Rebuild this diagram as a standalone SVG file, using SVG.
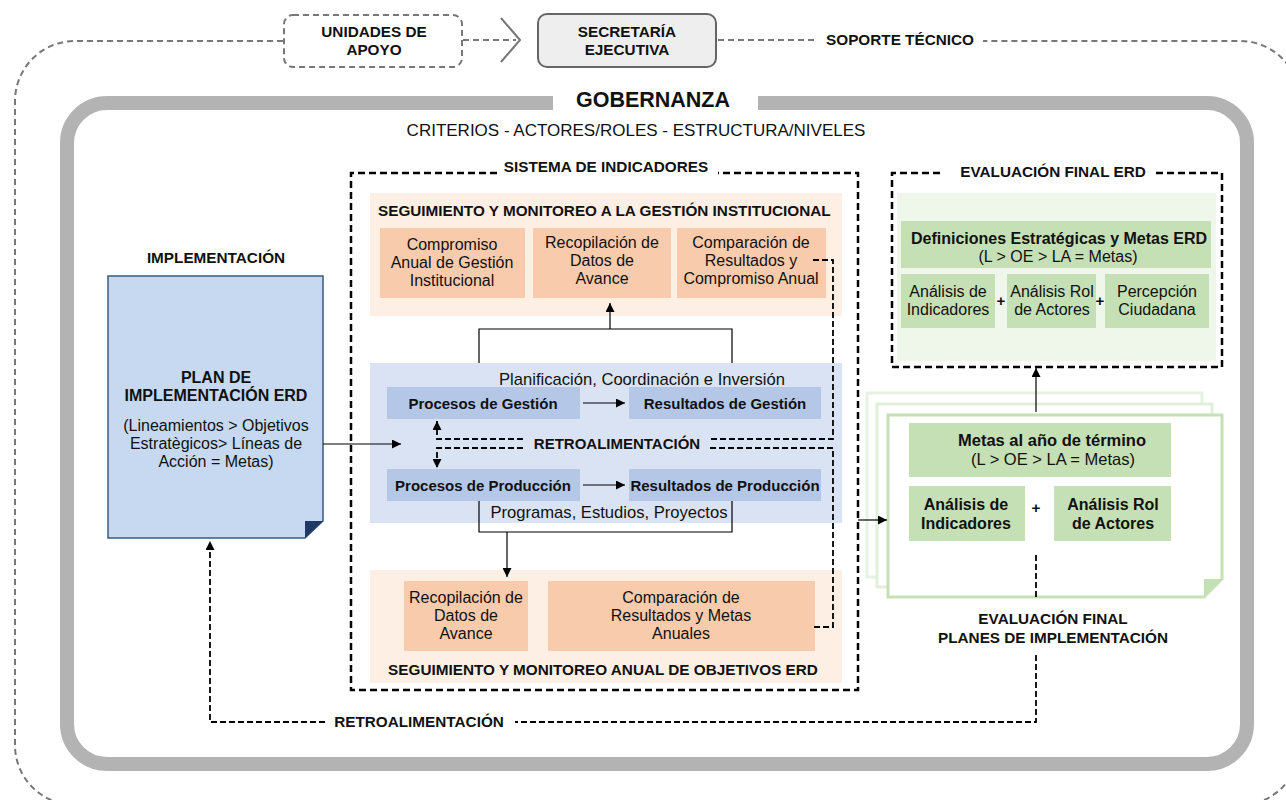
<svg xmlns="http://www.w3.org/2000/svg" width="1286" height="800" viewBox="0 0 1286 800">
<defs>
<marker id="ah" viewBox="0 0 10 10" refX="10" refY="5" markerWidth="10" markerHeight="9" markerUnits="userSpaceOnUse" orient="auto"><path d="M0,0 L10,5 L0,10 Z" fill="#000"/></marker>
<style>
text{font-family:"Liberation Sans",Arial,sans-serif;fill:#111;}
.b{font-weight:bold;}
.c{text-anchor:middle;}
.h{font-size:15.3px;font-weight:bold;}
.r{font-size:16px;}
.r1{font-size:16.6px;}
.rb{font-size:15px;font-weight:bold;}
.rb16{font-size:16px;font-weight:bold;}
.gd{fill:none;stroke:#777;stroke-width:2;stroke-dasharray:6,4;}
.kd{fill:none;stroke:#000;stroke-width:2.5;stroke-dasharray:7,4;}
.kd2{fill:none;stroke:#000;stroke-width:1.8;stroke-dasharray:6,3;}
.ln{fill:none;stroke:#000;stroke-width:1.2;}
.peachP{fill:#fdefe3;}
.peach{fill:#f8cbad;}
.blueP{fill:#dae3f3;}
.blue{fill:#b4c7e7;}
.green{fill:#c5e0b4;}
</style>
</defs>
<rect width="1286" height="800" fill="#fff"/>

<g id="frames">
<path class="gd" d="M283,41 H75 A60,60 0 0 0 15,101 V745 A60,60 0 0 0 75,805 H1240 A60,60 0 0 0 1300,745 V101 A60,60 0 0 0 1240,41 H983"/>
<path class="gd" d="M463,40 H516"/>
<path class="gd" d="M718,40 H815"/>
<path d="M501,18 L520,40 L501,62" fill="none" stroke="#777" stroke-width="2"/>
<text class="h c" x="900" y="45">SOPORTE TÉCNICO</text>
<path d="M553,103 H107 A40,40 0 0 0 67,143 V724 A40,40 0 0 0 107,764 H1207 A40,40 0 0 0 1247,724 V143 A40,40 0 0 0 1207,103 H758" fill="none" stroke="#b3b3b3" stroke-width="14"/>
<text class="b c" x="653" y="107" font-size="21.5">GOBERNANZA</text>
<text class="c" x="636" y="136" font-size="17">CRITERIOS - ACTORES/ROLES - ESTRUCTURA/NIVELES</text>
<path class="kd" d="M497,173 H351 V690 H858 V173 H718"/>
<text class="h c" x="606" y="172">SISTEMA DE INDICADORES</text>
<path class="kd" d="M940,173 H892 V367 H1222 V173 H1155"/>
<text class="h c" x="1053" y="177">EVALUACIÓN FINAL ERD</text>
</g>

<g id="unidades">
<rect x="284" y="15" width="178" height="52" rx="9" fill="#fff" class="gd"/>
<text class="h c" x="374" y="37">UNIDADES DE</text>
<text class="h c" x="374" y="55">APOYO</text>
</g>
<g id="secretaria">
<rect x="538" y="14" width="178" height="53" rx="9" fill="#eeeeee" stroke="#666" stroke-width="2"/>
<text class="h c" x="627" y="37">SECRETARÍA</text>
<text class="h c" x="627" y="55">EJECUTIVA</text>
</g>

<g id="implementacion">
<text class="h c" x="216" y="263">IMPLEMENTACIÓN</text>
<path d="M108,276 H323 V521 L305,538 H108 Z" fill="#c6d9f0" stroke="#3b5a80" stroke-width="1.5"/>
<path d="M305,538 V521 H323 Z" fill="#1f3864"/>
<text class="rb16 c" x="216" y="383">PLAN DE</text>
<text class="rb16 c" x="216" y="401">IMPLEMENTACIÓN ERD</text>
<text class="c r" x="216" y="431">(Lineamientos &gt; Objetivos</text>
<text class="c r" x="216" y="449">Estratègicos&gt; Líneas de</text>
<text class="c r" x="216" y="467">Acción = Metas)</text>
</g>

<g id="seguimiento-gestion">
<rect class="peachP" x="370" y="193" width="472" height="123"/>
<text class="h" x="378" y="216">SEGUIMIENTO Y MONITOREO A LA GESTIÓN INSTITUCIONAL</text>
<rect class="peach" x="380" y="228" width="145" height="70"/>
<text class="c r" x="452" y="250">Compromiso</text>
<text class="c r" x="452" y="268">Anual de Gestión</text>
<text class="c r" x="452" y="286">Institucional</text>
<rect class="peach" x="533" y="228" width="138" height="70"/>
<text class="c r" x="602" y="248">Recopilación de</text>
<text class="c r" x="602" y="266">Datos de</text>
<text class="c r" x="602" y="284">Avance</text>
<rect class="peach" x="677" y="228" width="149" height="70"/>
<text class="c r" x="751" y="248">Comparación de</text>
<text class="c r" x="751" y="266">Resultados y</text>
<text class="c r" x="751" y="284">Compromiso Anual</text>
</g>

<g id="procesos">
<rect class="blueP" x="370" y="363" width="472" height="160"/>
<text class="c r1" x="642" y="385">Planificación, Coordinación e Inversión</text>
<rect class="blue" x="387" y="387" width="193" height="32"/>
<text class="rb c" x="483" y="409">Procesos de Gestión</text>
<rect class="blue" x="629" y="387" width="192" height="32"/>
<text class="rb c" x="725" y="409">Resultados de Gestión</text>
<rect class="blue" x="387" y="469" width="193" height="32"/>
<text class="rb c" x="483" y="491">Procesos de Producción</text>
<rect class="blue" x="629" y="469" width="192" height="32"/>
<text class="rb c" x="725" y="491">Resultados de Producción</text>
<text class="c r1" x="609" y="518">Programas, Estudios, Proyectos</text>
<text class="rb c" x="617" y="449">RETROALIMENTACIÓN</text>
</g>

<g id="seguimiento-anual">
<rect class="peachP" x="370" y="570" width="472" height="113"/>
<rect class="peach" x="404" y="581" width="124" height="70"/>
<text class="c r" x="466" y="603">Recopilación de</text>
<text class="c r" x="466" y="621">Datos de</text>
<text class="c r" x="466" y="639">Avance</text>
<rect class="peach" x="548" y="581" width="267" height="70"/>
<text class="c r" x="681" y="603">Comparación de</text>
<text class="c r" x="681" y="621">Resultados y Metas</text>
<text class="c r" x="681" y="639">Anuales</text>
<text class="h c" x="603" y="675">SEGUIMIENTO Y MONITOREO ANUAL DE OBJETIVOS ERD</text>
</g>

<g id="evaluacion-erd">
<rect x="897" y="193" width="319" height="168" fill="#eff6ea"/>
<rect class="green" x="901" y="221" width="310" height="47"/>
<text class="rb16 c" x="1059" y="244">Definiciones Estratégicas y Metas ERD</text>
<text class="c r" x="1058" y="262">(L &gt; OE &gt; LA = Metas)</text>
<rect class="green" x="901" y="274" width="94" height="54"/>
<text class="c r" x="948" y="297">Análisis de</text>
<text class="c r" x="948" y="315">Indicadores</text>
<rect class="green" x="1007" y="274" width="89" height="54"/>
<text class="c r" x="1052" y="297">Análisis Rol</text>
<text class="c r" x="1052" y="315">de Actores</text>
<rect class="green" x="1105" y="274" width="104" height="54"/>
<text class="c r" x="1157" y="297">Percepción</text>
<text class="c r" x="1157" y="315">Ciudadana</text>
<text class="rb c" x="1001" y="306">+</text>
<text class="rb c" x="1100" y="306">+</text>
</g>

<g id="evaluacion-planes">
<path d="M867,393 H1202 V559 L1184,577 H867 Z" fill="#fff" stroke="#e8f2e2" stroke-width="3"/>
<path d="M877,404 H1212 V569 L1194,587 H877 Z" fill="#fff" stroke="#e2efda" stroke-width="3"/>
<path d="M1194,587 V569 H1212 Z" fill="#e2efda"/>
<path d="M888,415 H1222 V579 L1204,597 H888 Z" fill="#fff" stroke="#c5e0b4" stroke-width="3"/>
<path d="M1204,597 V579 H1222 Z" fill="#c5e0b4"/>
<rect class="green" x="909" y="423" width="262" height="54"/>
<text class="c b" x="1052" y="446" font-size="16.5">Metas al año de término</text>
<text class="c" x="1053" y="465" font-size="16.5">(L &gt; OE &gt; LA = Metas)</text>
<rect class="green" x="909" y="486" width="116" height="55"/>
<text class="rb16 c" x="966" y="510">Análisis de</text>
<text class="rb16 c" x="966" y="529">Indicadores</text>
<rect class="green" x="1054" y="486" width="117" height="55"/>
<text class="rb16 c" x="1113" y="510">Análisis Rol</text>
<text class="rb16 c" x="1113" y="529">de Actores</text>
<text class="h c" x="1036" y="513">+</text>
<text class="h c" x="1053" y="624">EVALUACIÓN FINAL</text>
<text class="h c" x="1053" y="643">PLANES DE IMPLEMENTACIÓN</text>
</g>

<g id="connectors">
<path class="ln" d="M479,363 V329 H732 V363"/>
<path class="ln" d="M610,329 V303" marker-end="url(#ah)"/>
<path class="ln" d="M583,403 H625" marker-end="url(#ah)"/>
<path class="ln" d="M583,485 H625" marker-end="url(#ah)"/>
<path class="ln" d="M479,501 V532 H732 V501"/>
<path class="ln" d="M507,532 V577" marker-end="url(#ah)"/>
<path class="ln" d="M323,444 H401" marker-end="url(#ah)"/>
<path class="ln" d="M858,520 H887" marker-end="url(#ah)"/>
<path class="ln" d="M1036,412 V368" marker-end="url(#ah)"/>
<path class="kd2" d="M523,439 H437 V421" marker-end="url(#ah)"/>
<path class="kd2" d="M523,448 H437 V468" marker-end="url(#ah)"/>
<path class="kd2" d="M813,260 H833 V439 H710"/>
<path class="kd2" d="M710,448 H833 V627 H813"/>
<path class="kd2" d="M1036,555 V598"/>
<path class="kd2" d="M1036,655 V722 H515"/>
<path class="kd2" d="M325,722 H210 V541" marker-end="url(#ah)"/>
<text class="h c" x="419" y="727">RETROALIMENTACIÓN</text>
</g>
</svg>
